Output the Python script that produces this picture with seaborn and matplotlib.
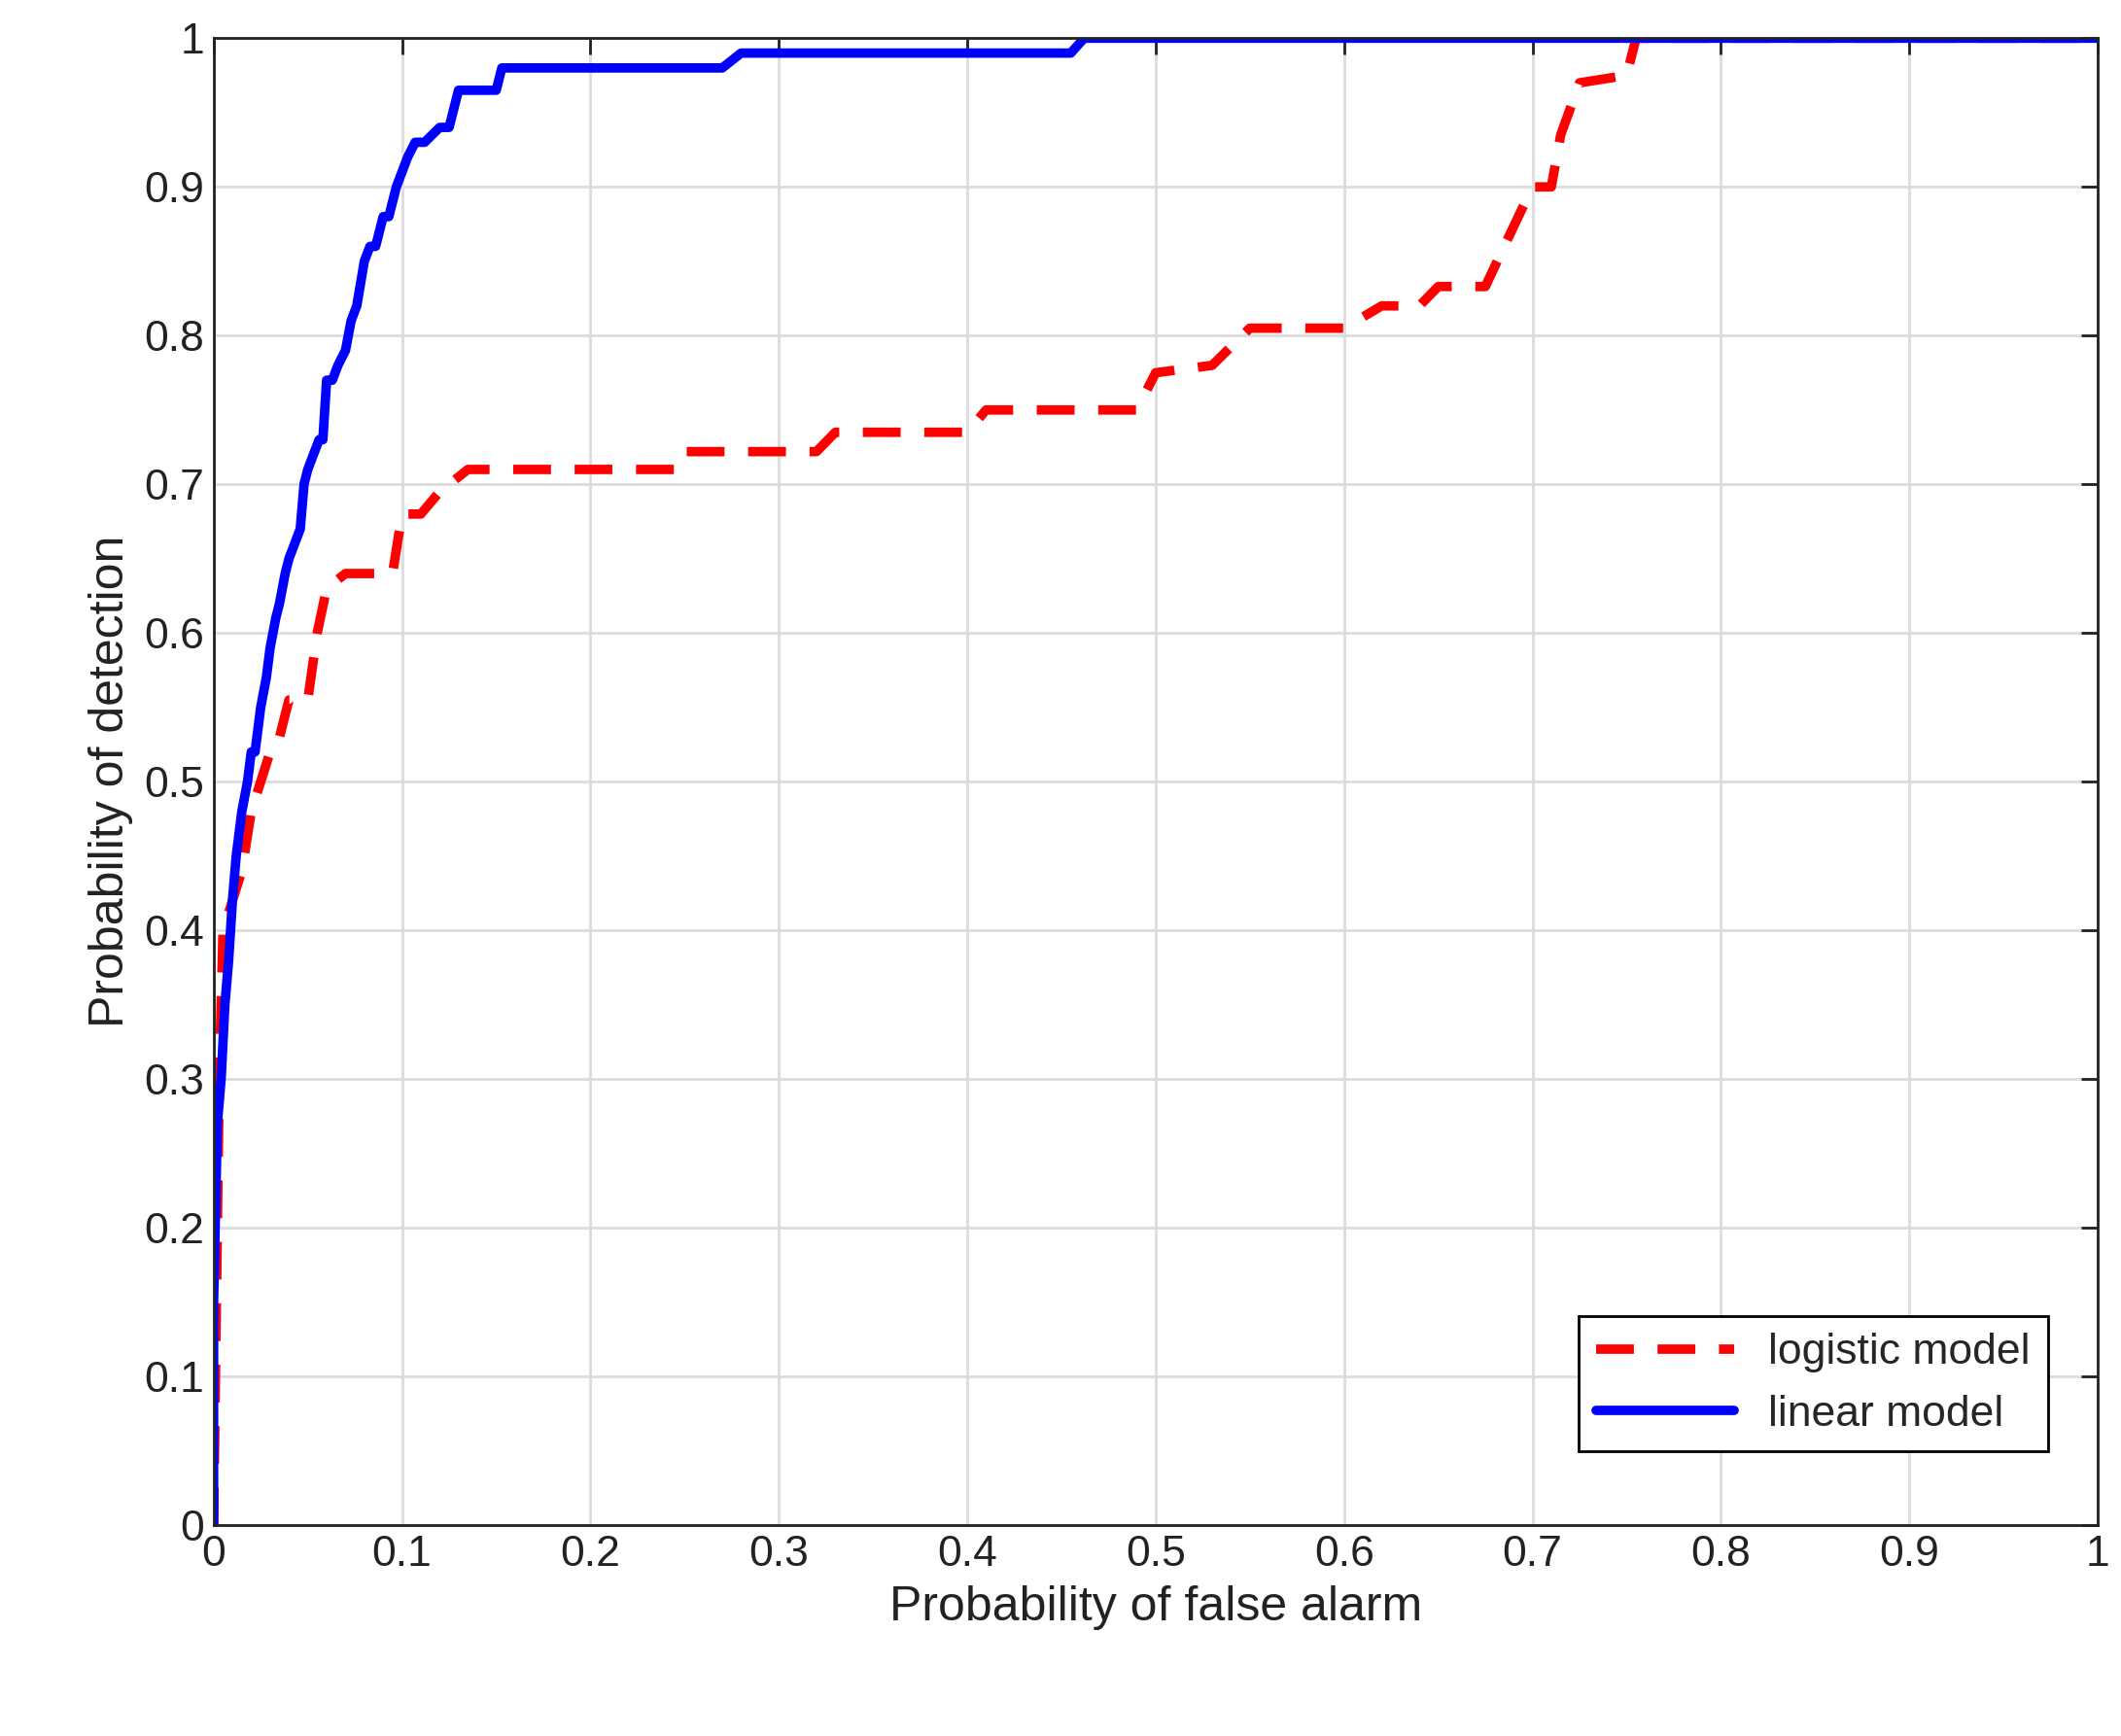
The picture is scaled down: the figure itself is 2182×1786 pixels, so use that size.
import numpy as np
import pandas as pd
import seaborn as sns
import matplotlib.pyplot as plt

# ROC points
lin_x = [0, 0, 0.002, 0.004, 0.006, 0.008, 0.01, 0.012, 0.015, 0.018, 0.02, 0.022, 0.025, 0.028,
         0.03, 0.033, 0.035, 0.038, 0.04, 0.043, 0.046, 0.048, 0.05, 0.053, 0.056, 0.058, 0.06,
         0.063, 0.066, 0.07, 0.073, 0.076, 0.08, 0.083, 0.086, 0.09, 0.093, 0.097, 0.1, 0.103,
         0.107, 0.112, 0.12, 0.125, 0.128, 0.13, 0.15, 0.153, 0.27, 0.28, 0.455, 0.462, 1.0]
lin_y = [0, 0.15, 0.27, 0.3, 0.35, 0.38, 0.42, 0.45, 0.48, 0.5, 0.52, 0.52, 0.55, 0.57,
         0.59, 0.61, 0.62, 0.64, 0.65, 0.66, 0.67, 0.70, 0.71, 0.72, 0.73, 0.73, 0.77,
         0.77, 0.78, 0.79, 0.81, 0.82, 0.85, 0.86, 0.86, 0.88, 0.88, 0.90, 0.91, 0.92,
         0.93, 0.93, 0.94, 0.94, 0.955, 0.965, 0.965, 0.98, 0.98, 0.99, 0.99, 1.0, 1.0]

log_x = [0, 0.001, 0.003, 0.005, 0.01, 0.015, 0.02, 0.025, 0.03, 0.035, 0.04, 0.05, 0.055,
         0.06, 0.07, 0.095, 0.1, 0.11, 0.12, 0.135, 0.245, 0.25, 0.32, 0.33, 0.4, 0.41, 0.49,
         0.5, 0.53, 0.55, 0.6, 0.62, 0.64, 0.65, 0.675, 0.685, 0.7, 0.71, 0.715, 0.725, 0.75,
         0.755, 1.0]
log_y = [0, 0.1, 0.3, 0.4, 0.42, 0.44, 0.48, 0.5, 0.52, 0.53, 0.555, 0.555, 0.6,
         0.63, 0.64, 0.64, 0.68, 0.68, 0.695, 0.71, 0.71, 0.722, 0.722, 0.735, 0.735, 0.75, 0.75,
         0.775, 0.78, 0.805, 0.805, 0.82, 0.82, 0.833, 0.833, 0.86, 0.9, 0.9, 0.935, 0.97, 0.975,
         1.0, 1.0]

sns.set_style("white")
plt.rcParams['font.family'] = ['Liberation Sans', 'DejaVu Sans']

fig = plt.figure(figsize=(10.91, 8.93), dpi=200)
ax = fig.add_axes([0.1007, 0.1214, 0.8883, 0.8566])

df_log = pd.DataFrame({'x': log_x, 'y': log_y})
df_lin = pd.DataFrame({'x': lin_x, 'y': lin_y})
sns.lineplot(data=df_log, x='x', y='y', sort=False, estimator=None, ax=ax,
             color='#ff0000', lw=3.5, dashes=False, label='logistic model')
ax.lines[-1].set_dashes([4, 2.5])
sns.lineplot(data=df_lin, x='x', y='y', sort=False, estimator=None, ax=ax,
             color='#0000ff', lw=3.5, label='linear model')

ticks = np.round(np.arange(0, 1.01, 0.1), 1)
labels = ['0'] + [f'{t:g}' for t in ticks[1:-1]] + ['1']
ax.set_xlim(0, 1)
ax.set_ylim(0, 1)
ax.set_xticks(ticks)
ax.set_xticklabels(labels)
ax.set_yticks(ticks)
ax.set_yticklabels(labels)
ax.grid(True, color='#dcdcdc', lw=1)
ax.tick_params(direction='in', length=6, width=1, top=True, right=True, labelsize=16, colors='#222222')
for s in ax.spines.values():
    s.set_color('#222222')
    s.set_linewidth(1)
ax.set_xlabel('Probability of false alarm', fontsize=18, color='#222222')
ax.set_ylabel('Probability of detection', fontsize=18, color='#222222')

leg = ax.legend(loc='lower right', fontsize=16, fancybox=False, framealpha=1,
                edgecolor='black', borderpad=0.4, handlelength=3.2,
                bbox_to_anchor=(0.985, 0.035))
leg.get_frame().set_linewidth(1)

fig.savefig('out.png', dpi=200)
